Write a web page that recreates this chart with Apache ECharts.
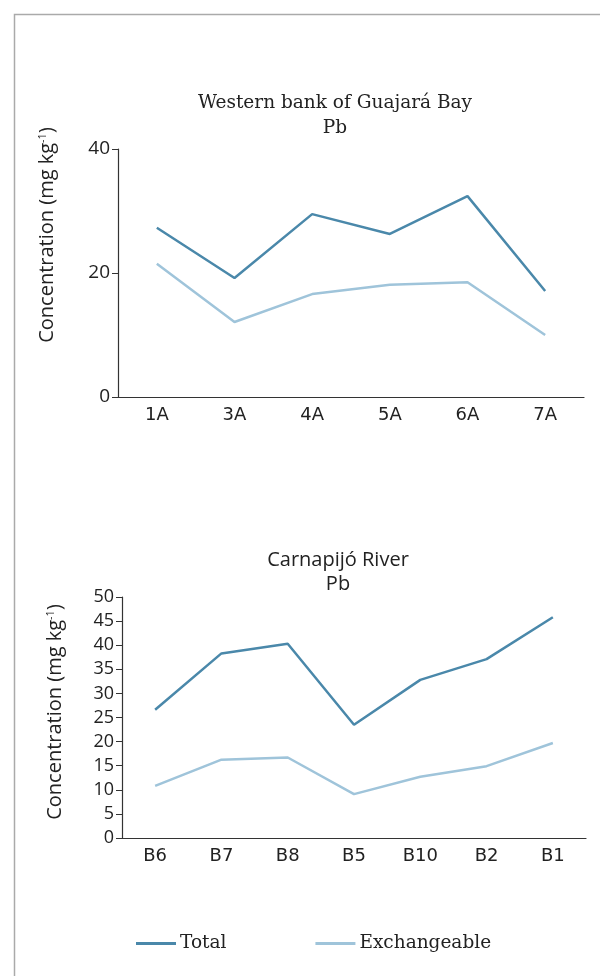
<!DOCTYPE html>
<html><head><meta charset="utf-8">
<script src="https://cdn.jsdelivr.net/npm/echarts@6/dist/echarts.min.js"></script>
<style>html,body{margin:0;padding:0;background:#fff}#c{width:600px;height:976px}</style>
</head><body><div id="c"></div>
<script>
const catsTop = ['1A','3A','4A','5A','6A','7A'];
const totalTop = [27.3, 19.2, 29.5, 26.3, 32.4, 17.1];
const exchTop = [21.5, 12.1, 16.6, 18.1, 18.5, 10.0];
const catsBot = ['B6','B7','B8','B5','B10','B2','B1'];
const totalBot = [26.6, 38.3, 40.3, 23.5, 32.8, 37.1, 45.8];
const exchBot = [10.8, 16.25, 16.7, 9.1, 12.7, 14.9, 19.7];
const titleTop = ['Western bank of Guajará Bay', 'Pb'];
const titleBot = ['Carnapijó River', 'Pb'];
const seriesNames = ['Total', 'Exchangeable'];

const cTotal = '#4a88aa', cExch = '#9fc4da', axisC = '#333';
const sans = 'Open Sans', wide = 'DejaVu Sans', serif = 'DejaVu Serif';

const chart = echarts.init(document.getElementById('c'), null, {renderer:'canvas'});
function xAx(idx, data, fs){
  return {type:'category', gridIndex:idx, data, boundaryGap:true,
    axisLine:{lineStyle:{color:axisC, width:1.2}},
    axisTick:{alignWithLabel:true, length:6, lineStyle:{color:axisC}},
    axisLabel:{color:'#222', fontFamily:wide, fontSize:fs, margin:9}};
}
function yAx(idx, max, interval, fs){
  return {type:'value', gridIndex:idx, min:0, max, interval,
    axisLine:{show:true, lineStyle:{color:axisC, width:1.2}},
    axisTick:{show:true, length:6, lineStyle:{color:axisC}},
    splitLine:{show:false},
    axisLabel:{color:'#222', fontFamily:sans, fontSize:fs, margin:8}};
}
function ln(name, xi, data, color){
  return {type:'line', name, xAxisIndex:xi, yAxisIndex:xi, data, symbol:'none',
    lineStyle:{color, width:2.5}, itemStyle:{color}, animation:false};
}
function yName(x, y, fs){
  return {type:'text', x, y, rotation:Math.PI/2,
    style:{text:'{a|Concentration (mg kg}{s|-1}{a|)}', align:'center', verticalAlign:'middle',
      rich:{a:{fontFamily:sans, fontSize:fs, fill:'#222'}, s:{fontFamily:sans, fontSize:fs*0.55, fill:'#222', verticalAlign:'top', padding:[0,0,9,0]}}}};
}
chart.setOption({
  animation:false,
  title:[
    {text:titleTop.join('\n'), left:330, top:86, textAlign:'center',
      textStyle:{fontFamily:serif, fontSize:18.5, fontWeight:'normal', color:'#222', lineHeight:25}},
    {text:titleBot.join('\n'), left:333, top:543, textAlign:'center',
      textStyle:{fontFamily:sans, fontSize:20, fontWeight:'normal', color:'#222', lineHeight:24}}
  ],
  grid:[
    {left:118, top:149, width:466, height:248},
    {left:122, top:597, width:464, height:241}
  ],
  xAxis:[xAx(0, catsTop, 18), xAx(1, catsBot, 18)],
  yAxis:[yAx(0, 40, 20, 19), yAx(1, 50, 5, 18)],
  legend:{left:131, top:929, itemGap:89, icon:'rect', itemWidth:40, itemHeight:3,
    data:seriesNames, textStyle:{fontFamily:serif, fontSize:18.5, color:'#222', padding:[0,0,0,-1]}},
  series:[
    ln(seriesNames[0], 0, totalTop, cTotal),
    ln(seriesNames[1], 0, exchTop, cExch),
    ln(seriesNames[0], 1, totalBot, cTotal),
    ln(seriesNames[1], 1, exchBot, cExch)
  ],
  graphic:[
    {type:'rect', shape:{x:14.5, y:14.5, width:700, height:1000}, style:{fill:'none', stroke:'#aaa', lineWidth:1.5}, silent:true},
    yName(47, 235, 20),
    yName(55, 712, 20)
  ]
});
</script></body></html>
